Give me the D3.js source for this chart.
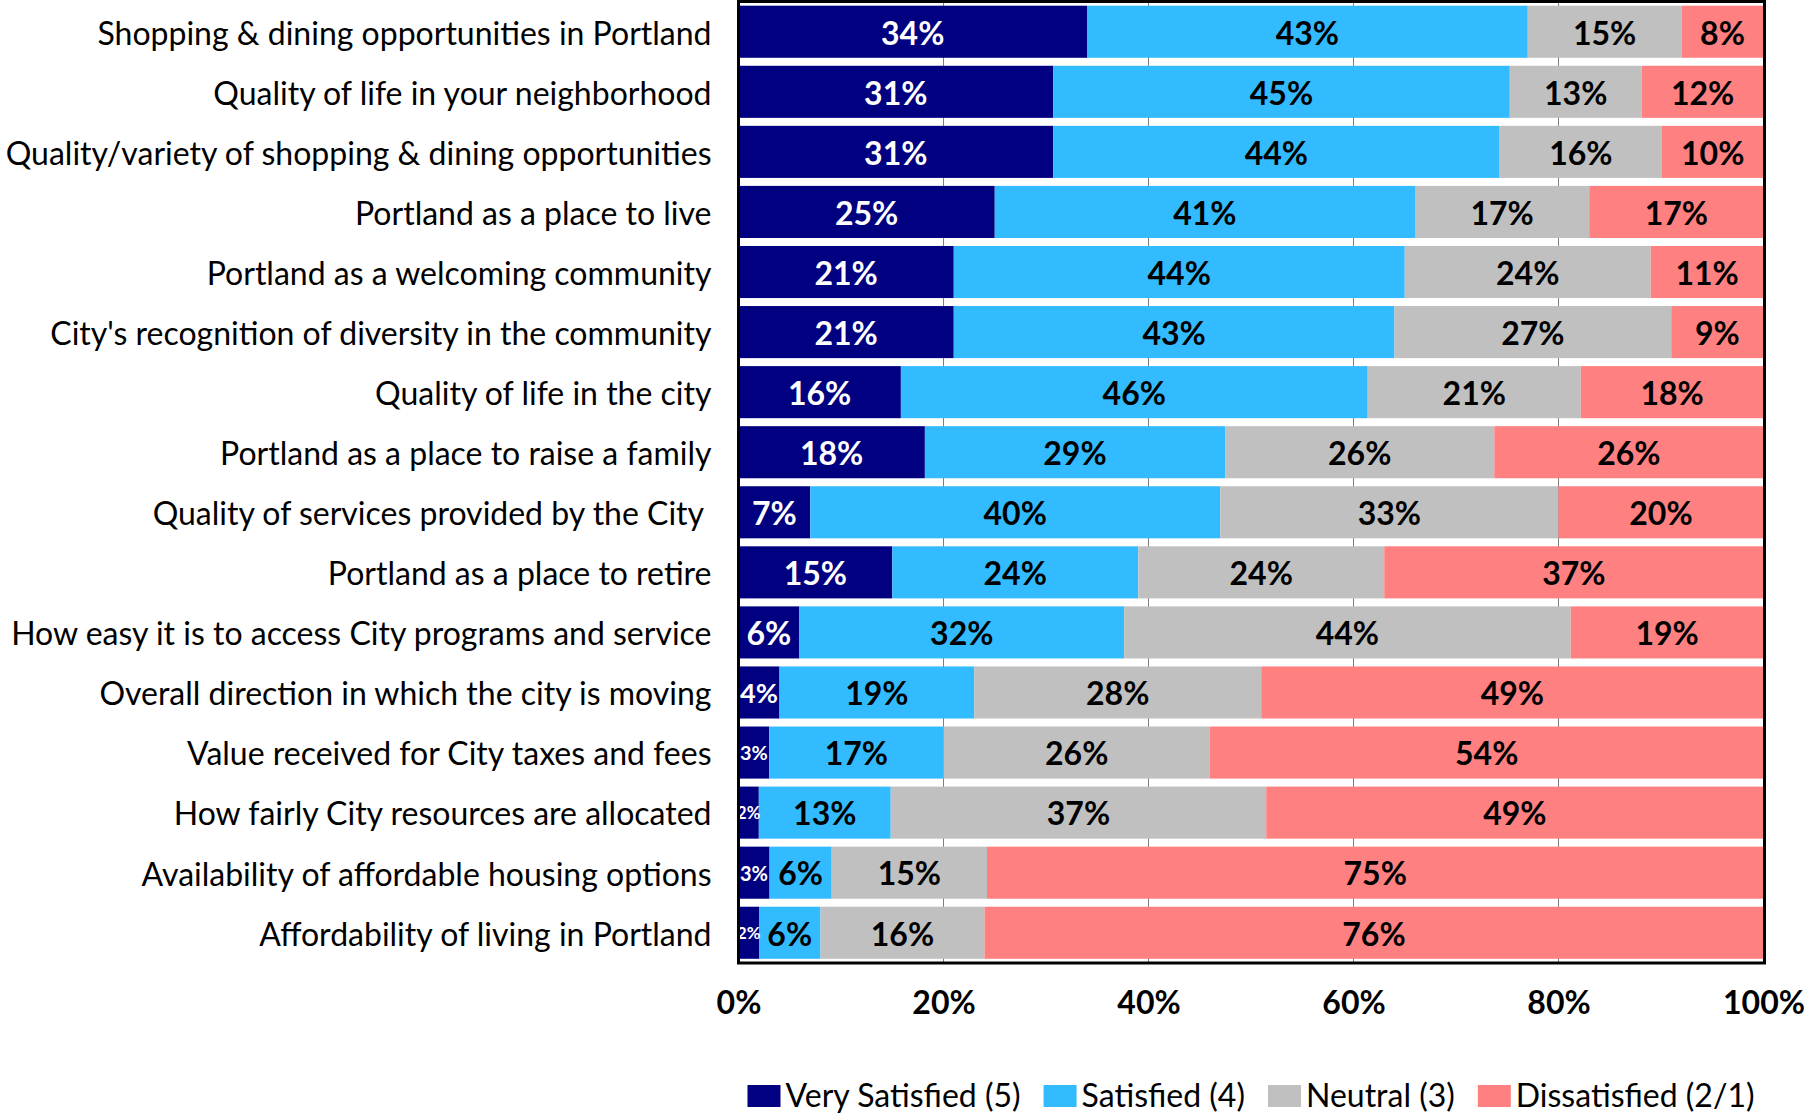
<!DOCTYPE html>
<html>
<head>
<meta charset="utf-8">
<script src="https://cdn.jsdelivr.net/npm/d3@7"></script>
<style>
  html, body { margin: 0; padding: 0; background: #ffffff; }
  svg { display: block; }
  text { font-family: Lato, "Open Sans", sans-serif; }
</style>
</head>
<body>
<svg id="chart" width="1806" height="1116"></svg>
<script>
// ---- Data ----
const categories = [
  "Shopping & dining opportunities in Portland",
  "Quality of life in your neighborhood",
  "Quality/variety of shopping & dining opportunities",
  "Portland as a place to live",
  "Portland as a welcoming community",
  "City's recognition of diversity in the community",
  "Quality of life in the city",
  "Portland as a place to raise a family",
  "Quality of services provided by the City ",
  "Portland as a place to retire",
  "How easy it is to access City programs and service",
  "Overall direction in which the city is moving",
  "Value received for City taxes and fees",
  "How fairly City resources are allocated",
  "Availability of affordable housing options",
  "Affordability of living in Portland"
];
const verySatisfied = [34, 31, 31, 25, 21, 21, 16, 18, 7, 15, 6, 4, 3, 2, 3, 2];
const satisfied     = [43, 45, 44, 41, 44, 43, 46, 29, 40, 24, 32, 19, 17, 13, 6, 6];
const neutral       = [15, 13, 16, 17, 24, 27, 21, 26, 33, 24, 44, 28, 26, 37, 15, 16];
const dissatisfied  = [8, 12, 10, 17, 11, 9, 18, 26, 20, 37, 19, 49, 54, 49, 75, 76];
const seriesNames   = ["Very Satisfied (5)", "Satisfied (4)", "Neutral (3)", "Dissatisfied (2/1)"];
const xTickValues   = [0, 0.2, 0.4, 0.6, 0.8, 1.0];
const xTickLabels   = ["0%", "20%", "40%", "60%", "80%", "100%"];

// ---- Styles ----
const colors = ["#000080", "#33BBFF", "#C0C0C0", "#FF8080"];
const labelColors = ["#FFFFFF", "#000000", "#000000", "#000000"];
const FONT = 32;

const seriesValues = [verySatisfied, satisfied, neutral, dissatisfied];
const rows = categories.map((c, i) => {
  const r = { category: c };
  seriesNames.forEach((s, k) => { r[s] = seriesValues[k][i]; });
  return r;
});

const stacked = d3.stack()
  .keys(seriesNames)
  .offset(d3.stackOffsetExpand)(rows);

const plot = { left: 738.5, right: 1763.5, top: 1.5, bottom: 963 };

const svg = d3.select("#chart");

const x = d3.scaleLinear().domain([0, 1]).range([plot.left, plot.right]);
const y = d3.scaleBand()
  .domain(categories)
  .range([plot.top, plot.bottom])
  .paddingInner(0.133)
  .paddingOuter(0.07);

// gridlines
svg.append("g")
  .selectAll("line")
  .data(xTickValues.slice(1, -1))
  .join("line")
  .attr("x1", d => x(d)).attr("x2", d => x(d))
  .attr("y1", plot.top).attr("y2", plot.bottom)
  .attr("stroke", "#7f7f7f")
  .attr("stroke-width", 1);

// bars
const layers = svg.append("g")
  .selectAll("g")
  .data(stacked)
  .join("g")
  .attr("fill", (d, i) => colors[i]);

layers.selectAll("rect")
  .data(d => d)
  .join("rect")
  .attr("x", d => x(d[0]))
  .attr("y", d => y(d.data.category))
  .attr("width", d => x(d[1]) - x(d[0]))
  .attr("height", y.bandwidth());

// value labels
stacked.forEach((layer, k) => {
  const g = svg.append("g");
  layer.forEach(d => {
    const val = d.data[layer.key];
    const segW = x(d[1]) - x(d[0]);
    const t = g.append("text")
      .attr("x", (x(d[0]) + x(d[1])) / 2)
      .attr("y", y(d.data.category) + y.bandwidth() / 2)
      .attr("dy", "0.40em")
      .attr("text-anchor", "middle")
      .attr("font-weight", "bold")
      .attr("font-size", FONT)
      .attr("fill", labelColors[k])
      .text(val + "%");
    const len = t.node().getComputedTextLength();
    const avail = segW > 30 ? segW - 3 : segW + 3;
    if (len > avail) {
      const fs = FONT * avail / len;
      t.attr("font-size", fs);
    }
  });
});

// plot border
svg.append("rect")
  .attr("x", plot.left)
  .attr("y", plot.top)
  .attr("width", plot.right - plot.left + 1)
  .attr("height", plot.bottom - plot.top)
  .attr("fill", "none")
  .attr("stroke", "#000")
  .attr("stroke-width", 3);

// x axis
const xAxis = svg.append("g")
  .attr("transform", `translate(0,${plot.bottom})`)
  .call(d3.axisBottom(x)
    .tickValues(xTickValues)
    .tickFormat((d, i) => xTickLabels[i])
    .tickSize(0)
    .tickPadding(28));
xAxis.select(".domain").remove();
xAxis.selectAll("text")
  .attr("font-family", "Lato, sans-serif")
  .attr("font-size", FONT)
  .attr("font-weight", "bold")
  .attr("fill", "#000");

// y axis
const yAxis = svg.append("g")
  .attr("transform", `translate(${plot.left},0)`)
  .call(d3.axisLeft(y).tickSize(0).tickPadding(27));
yAxis.select(".domain").remove();
yAxis.selectAll("text")
  .attr("font-family", "Lato, sans-serif")
  .attr("font-size", 32)
  .attr("dy", "0.40em")
  .attr("fill", "#000")
  .style("white-space", "pre");

// legend
const legend = svg.append("g");
const sw = 33, sh = 22, gapText = 5, gapItem = 23;
let cx = 0;
seriesNames.forEach((name, i) => {
  const g = legend.append("g");
  g.append("rect").attr("x", 0).attr("y", -sh).attr("width", sw).attr("height", sh).attr("fill", colors[i]);
  const t = g.append("text")
    .attr("x", sw + gapText).attr("y", 0)
    .attr("font-size", FONT)
    .attr("fill", "#000")
    .text(name);
  const w = sw + gapText + t.node().getComputedTextLength();
  g.attr("transform", `translate(${cx},0)`);
  cx += w + gapItem;
});
const totalW = cx - gapItem;
const centerX = (plot.left + plot.right) / 2;
legend.attr("transform", `translate(${centerX - totalW / 2},1107)`);
</script>
</body>
</html>
